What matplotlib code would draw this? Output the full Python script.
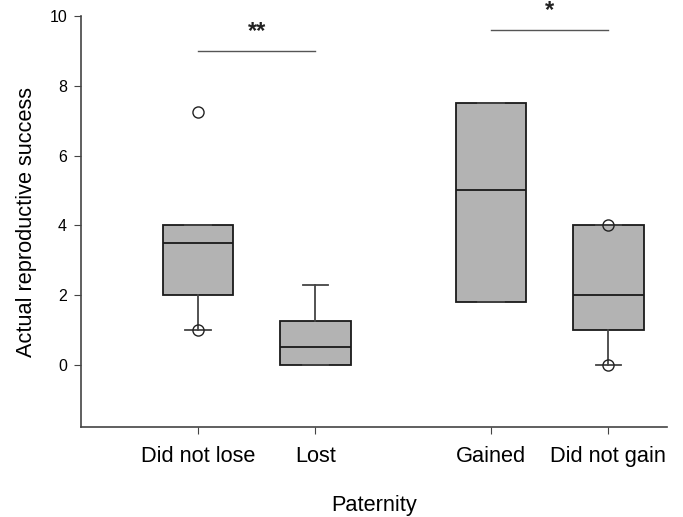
import matplotlib
matplotlib.use("Agg")
import matplotlib.pyplot as plt

plt.rcParams['font.family'] = ['Liberation Sans', 'DejaVu Sans']

groups = ['Did not lose', 'Lost', 'Gained', 'Did not gain']
positions = [1, 2, 3.5, 4.5]
q1 = [2.0, 0.0, 1.8, 1.0]
med = [3.5, 0.5, 5.0, 2.0]
q3 = [4.0, 1.25, 7.5, 4.0]
whis_lo = [1.0, 0.0, 1.8, 0.0]
whis_hi = [4.0, 2.3, 7.5, 4.0]
outliers = [[7.25, 1.0], [], [], [4.0, 0.0]]

# significance bars: (x from, x to, height, label)
sig_x0 = [1, 3.5]
sig_x1 = [2, 4.5]
sig_y = [9.0, 9.6]
sig_lab = ['**', '*']

stats = []
for i in range(len(groups)):
    stats.append(dict(label=groups[i], q1=q1[i], med=med[i], q3=q3[i],
                      whislo=whis_lo[i], whishi=whis_hi[i], fliers=outliers[i]))

fig = plt.figure(figsize=(6.83, 5.17), dpi=100)
ax = fig.add_axes([0.1186, 0.174, 0.858, 0.795])

ax.bxp(stats, positions=positions, widths=0.6, capwidths=0.22, patch_artist=True,
       boxprops=dict(facecolor='#b3b3b3', edgecolor='#1a1a1a', linewidth=1.3),
       medianprops=dict(color='#1a1a1a', linewidth=1.3),
       whiskerprops=dict(color='#444444', linewidth=1.3),
       capprops=dict(color='#444444', linewidth=1.3),
       flierprops=dict(marker='o', markerfacecolor='none', markeredgecolor='#222222',
                       markersize=8, markeredgewidth=1.0))

for i in range(len(sig_lab)):
    ax.plot([sig_x0[i], sig_x1[i]], [sig_y[i], sig_y[i]], color='#555555', lw=1.0)
    ax.text((sig_x0[i] + sig_x1[i]) / 2, sig_y[i] + 0.22, sig_lab[i],
            ha='center', va='bottom', fontsize=17, fontweight='bold', color='#222222')

ax.set_xlim(0, 5)
ax.set_ylim(-1.78, 10)
ax.set_yticks([0, 2, 4, 6, 8, 10])
ax.set_xticks(positions)
ax.set_xticklabels(groups, fontsize=15.7)
ax.tick_params(axis='y', labelsize=11.5, length=5, pad=5, color='#444444')
ax.tick_params(axis='x', length=5, color='#444444', pad=9)
ax.spines['top'].set_visible(False)
ax.spines['right'].set_visible(False)
for s in ['left', 'bottom']:
    ax.spines[s].set_color('#444444')
    ax.spines[s].set_linewidth(1.2)

ax.set_xlabel('Paternity', fontsize=15.7, labelpad=19.5)
ax.set_ylabel('Actual reproductive success', fontsize=15.7, labelpad=9)

fig.savefig('out.png', dpi=100)
